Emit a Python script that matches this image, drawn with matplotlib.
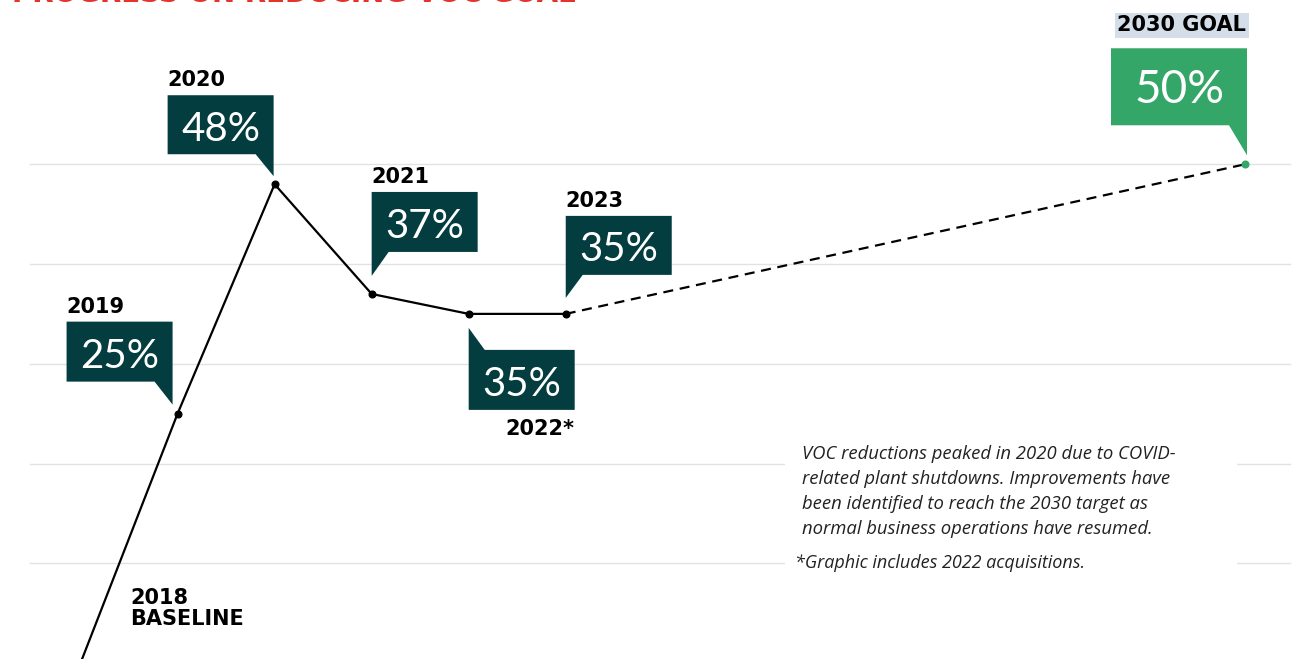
import matplotlib.pyplot as plt
import matplotlib.transforms as transforms
from matplotlib.patches import Polygon, Rectangle

# dados do grafico
anos = [2018, 2019, 2020, 2021, 2022, 2023]
reducao = [0, 25, 48, 37, 35, 35]
rotulos_ano = ['2018\nBASELINE', '2019', '2020', '2021', '2022*', '2023']
ano_meta = 2030
valor_meta = 50
rotulo_meta = '2030 GOAL'
titulo = 'PROGRESS ON REDUCING VOC GOAL'
nota = ('VOC reductions peaked in 2020 due to COVID-\n'
        'related plant shutdowns. Improvements have\n'
        'been identified to reach the 2030 target as\n'
        'normal business operations have resumed.')
rodape = '*Graphic includes 2022 acquisitions.'

teal = '#033d3f'
verde = '#34a668'

fig = plt.figure(figsize=(13.04, 6.59), dpi=100)
ax = fig.add_axes([0, 0, 1, 1])
ax.set_xlim(2017.17, 2030.608)
ax.set_ylim(0.4, 66.47)
ax.axis('off')

# linhas de grade
for g in [10, 20, 30, 40, 50]:
    ax.axhline(g, xmin=0.023, xmax=0.989, color='#e2e2e2', lw=1, zorder=0)

# serie realizada e projecao ate a meta
ax.plot(anos, reducao, color='black', lw=1.6, zorder=2)
ax.plot(anos[1:], reducao[1:], 'o', color='black', ms=4.8, zorder=3)
ax.plot([anos[-1], ano_meta], [reducao[-1], valor_meta], color='black', lw=1.6,
        linestyle=(0, (4.5, 3)), zorder=2)
ax.plot([ano_meta], [valor_meta], 'o', color=verde, ms=4.8, zorder=3)


def balao(x, y, caixa, cauda, ponta, cor, texto, tamanho):
    # caixa = (esq, dir, baixo, cima) em pixels a partir do ponto
    esq, dr, baixo, cima = caixa
    if cauda == 'baixo_dir':
        verts = [(esq, baixo), (dr - 18, baixo), (dr, ponta), (dr, cima), (esq, cima)]
    elif cauda == 'baixo_esq':
        verts = [(esq, ponta), (esq + 17, baixo), (dr, baixo), (dr, cima), (esq, cima)]
    else:  # cauda para cima, caixa abaixo do ponto
        verts = [(esq, ponta), (esq + 16, cima), (dr, cima), (dr, baixo), (esq, baixo)]
    tr = fig.dpi_scale_trans + transforms.ScaledTranslation(x, y, ax.transData)
    ax.add_patch(Polygon([(a / 100, b / 100) for a, b in verts], closed=True,
                         transform=tr, facecolor=cor, edgecolor='none', zorder=4))
    ax.text((esq + dr) / 200, ((baixo + cima) / 2 - 16) / 100, texto, transform=tr,
            ha='center', va='baseline', color='white', fontsize=tamanho,
            family='Lato', fontweight='normal', zorder=5)
    return tr


# posicoes dos baloes (pixels relativos ao ponto)
layout = {
    2019: ((-111, -5, 32, 92), 'baixo_dir', 9),
    2020: ((-107, -1, 30, 89), 'baixo_dir', 8),
    2021: ((0, 106, 42, 102), 'baixo_esq', 18),
    2022: ((0, 106, -96, -36), 'cima_esq', -14),
    2023: ((0, 106, 39, 98), 'baixo_esq', 16),
}

fonte_ano = dict(family='DejaVu Sans', fontweight='bold', fontsize=15, color='black')

for ano, valor, rot in zip(anos, reducao, rotulos_ano):
    if ano == 2018:
        ax.annotate(rot, (ano, valor), xytext=(50, 38), textcoords='offset pixels',
                    ha='left', va='baseline', linespacing=1.05,
                    annotation_clip=False, **fonte_ano)
        continue
    caixa, cauda, ponta = layout[ano]
    tr = balao(ano, valor, caixa, cauda, ponta, teal, f'{valor}%', 29)
    if cauda == 'cima_esq':
        ax.text(caixa[1] / 100, (caixa[2] - 25) / 100, rot, transform=tr,
                ha='right', va='baseline', zorder=5, **fonte_ano)
    else:
        ax.text(caixa[0] / 100, (caixa[3] + 9) / 100, rot, transform=tr,
                ha='left', va='baseline', zorder=5, **fonte_ano)

# meta de 2030
tr = balao(ano_meta, valor_meta, (-134, 2, 39, 116), 'baixo_dir', 9, verde,
           f'{valor_meta}%', 33)
ax.text(1 / 100, 133 / 100, rotulo_meta, transform=tr, ha='right', va='baseline',
        zorder=5, bbox=dict(boxstyle='square,pad=0.12', facecolor='#d3dee8',
                            edgecolor='none'), **fonte_ano)

# caixa de texto explicativo
ax.add_patch(Rectangle((0.602, 0.12), 0.347, 0.215, transform=ax.transAxes,
                       facecolor='white', edgecolor='none', zorder=1))
ax.text(0.615, 1 - 534 / 659, nota, transform=ax.transAxes, ha='left', va='baseline',
        family='Open Sans', style='italic', fontsize=13.3, color='#222222',
        linespacing=1.5, zorder=2)
ax.text(0.610, 1 - 568 / 659, rodape, transform=ax.transAxes, ha='left', va='baseline',
        family='Open Sans', style='italic', fontsize=13, color='#222222', zorder=2)

# titulo (cortado no topo)
fig.text(12 / 1304, 1 - 1.5 / 659, titulo, ha='left', va='baseline', color='#e5322b',
         family='DejaVu Sans', fontweight='bold', fontsize=20)

fig.savefig('out.png', dpi=100)
